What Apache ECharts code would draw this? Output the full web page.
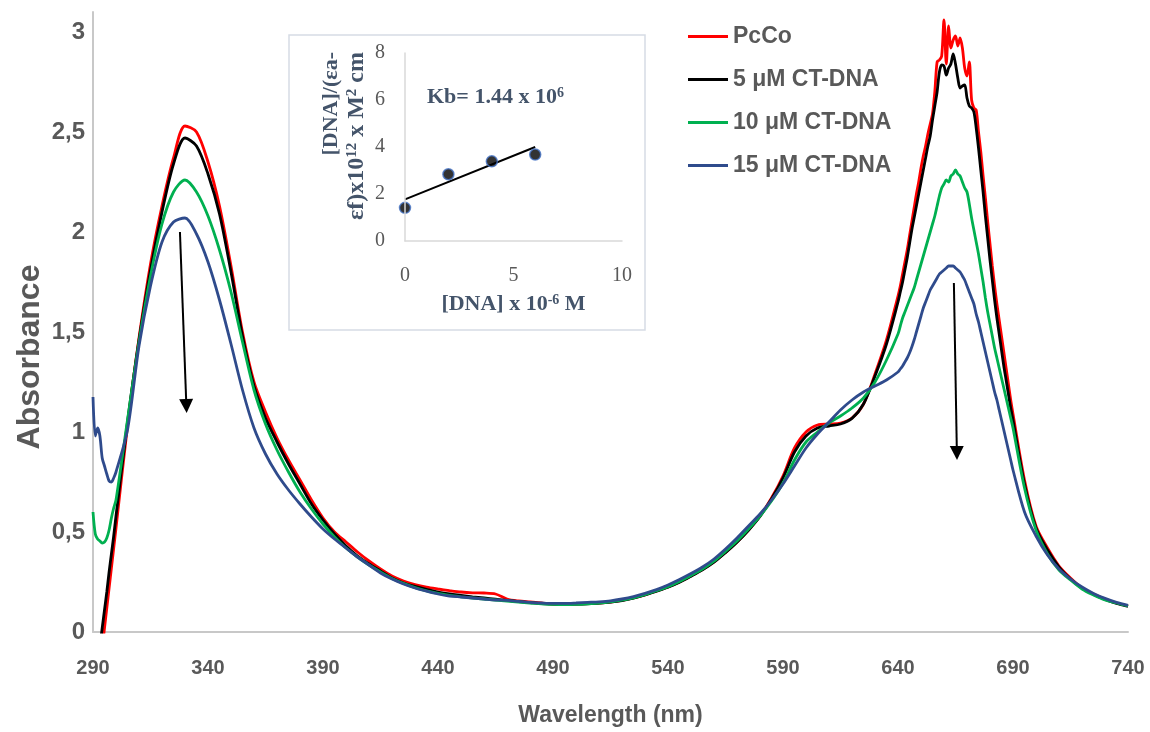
<!DOCTYPE html>
<html>
<head>
<meta charset="utf-8">
<script src="https://cdn.jsdelivr.net/npm/echarts@6/dist/echarts.min.js"></script>
<style>
html,body{margin:0;padding:0;background:#fff;}
#chart{width:1150px;height:732px;}
</style>
</head>
<body>
<div id="chart"></div>
<script>
// ---------- main spectrum data ----------
const wavelengths = [
 290,291,292,293,294,295,296,297,298,299,300,
 305,310,315,320,325,330,335,340,345,350,355,360,365,370,375,380,385,390,395,400,
 405,410,415,420,425,430,435,440,445,450,455,460,465,470,475,480,485,490,495,500,
 505,510,515,520,525,530,535,540,545,550,555,560,565,570,575,580,585,590,595,600,
 605,610,615,620,625,630,635,640,
 641,642,643,644,645,646,647,648,649,650,651,652,653,654,655,656,657,658,659,660,
 661,662,663,664,665,666,667,668,669,670,671,672,673,674,675,676,677,678,679,680,
 681,682,683,684,685,686,687,688,689,690,
 695,700,705,710,715,720,725,730,735,740
];
const pcco = [
 -0.46,-0.37,-0.27,-0.18,-0.08,0.02,0.12,0.22,0.32,0.42,0.52,
 1.03,1.47,1.84,2.13,2.37,2.53,2.50,2.35,2.13,1.83,1.50,1.25,1.10,0.97,0.86,0.76,0.66,0.57,0.50,0.45,
 0.40,0.355,0.315,0.28,0.255,0.237,0.224,0.215,0.207,0.200,0.196,0.195,0.19,0.165,0.155,0.150,0.145,0.140,0.139,0.140,
 0.142,0.145,0.150,0.158,0.170,0.186,0.205,0.225,0.250,0.280,0.312,0.350,0.398,0.450,0.510,0.580,0.670,0.780,0.920,1.000,
 1.035,1.040,1.045,1.070,1.140,1.290,1.460,1.680,
 1.73,1.79,1.85,1.91,1.98,2.05,2.12,2.19,2.25,2.32,2.38,2.43,2.49,2.54,2.59,2.70,2.85,2.86,2.88,3.06,
 2.84,3.03,2.92,2.96,2.98,2.93,2.97,2.92,2.82,2.78,2.85,2.66,2.62,2.61,2.50,2.40,2.28,2.17,2.05,1.94,
 1.83,1.73,1.64,1.56,1.48,1.40,1.32,1.24,1.16,1.09,
 0.76,0.53,0.42,0.33,0.27,0.22,0.19,0.165,0.145,0.13
];
const dna5 = [
 -0.35,-0.26,-0.16,-0.07,0.02,0.11,0.20,0.30,0.39,0.48,0.58,
 1.05,1.46,1.81,2.10,2.34,2.47,2.43,2.29,2.09,1.80,1.48,1.23,1.07,0.95,0.84,0.74,0.64,0.56,0.49,0.43,
 0.38,0.34,0.305,0.27,0.245,0.228,0.213,0.20,0.19,0.183,0.176,0.17,0.164,0.158,0.152,0.147,0.142,0.139,0.138,0.139,
 0.141,0.144,0.149,0.157,0.169,0.185,0.204,0.224,0.249,0.279,0.311,0.349,0.397,0.449,0.509,0.578,0.665,0.770,0.900,0.980,
 1.020,1.030,1.040,1.068,1.140,1.280,1.440,1.650,
 1.70,1.75,1.81,1.87,1.94,2.01,2.07,2.13,2.19,2.25,2.31,2.37,2.43,2.48,2.56,2.63,2.70,2.80,2.835,2.83,
 2.785,2.82,2.84,2.89,2.84,2.77,2.72,2.73,2.735,2.67,2.63,2.62,2.60,2.52,2.42,2.31,2.20,2.08,1.97,1.86,
 1.76,1.66,1.57,1.49,1.41,1.33,1.26,1.19,1.12,1.06,
 0.74,0.52,0.41,0.325,0.265,0.218,0.188,0.163,0.143,0.128
];
const dna10 = [
 0.60,0.49,0.465,0.455,0.445,0.45,0.47,0.51,0.57,0.62,0.66,
 1.06,1.45,1.78,2.04,2.20,2.26,2.20,2.08,1.91,1.70,1.45,1.21,1.04,0.91,0.80,0.70,0.615,0.54,0.475,0.42,
 0.375,0.335,0.30,0.268,0.243,0.222,0.206,0.193,0.183,0.176,0.170,0.165,0.160,0.155,0.150,0.145,0.141,0.138,0.137,0.138,
 0.141,0.145,0.151,0.159,0.171,0.187,0.206,0.227,0.253,0.283,0.315,0.354,0.403,0.455,0.515,0.580,0.655,0.745,0.860,0.950,
 1.000,1.045,1.080,1.120,1.170,1.250,1.360,1.490,
 1.53,1.57,1.60,1.63,1.66,1.69,1.72,1.76,1.80,1.84,1.88,1.92,1.96,2.00,2.04,2.08,2.13,2.18,2.22,2.24,
 2.26,2.25,2.28,2.29,2.31,2.29,2.28,2.25,2.22,2.20,2.14,2.07,2.01,1.95,1.89,1.82,1.75,1.67,1.60,1.54,
 1.48,1.42,1.37,1.32,1.27,1.22,1.17,1.12,1.07,1.02,
 0.72,0.51,0.39,0.31,0.26,0.215,0.185,0.16,0.145,0.13
];
const dna15 = [
 1.175,0.98,1.02,0.98,0.87,0.83,0.79,0.755,0.75,0.77,0.80,
 1.01,1.43,1.73,1.95,2.05,2.07,1.99,1.85,1.66,1.44,1.21,1.02,0.89,0.79,0.71,0.64,0.575,0.515,0.465,0.42,
 0.375,0.335,0.295,0.265,0.24,0.22,0.204,0.19,0.18,0.175,0.17,0.165,0.16,0.158,0.153,0.148,0.145,0.143,0.143,0.145,
 0.148,0.151,0.156,0.165,0.177,0.193,0.212,0.235,0.262,0.292,0.325,0.365,0.415,0.47,0.53,0.59,0.66,0.74,0.83,0.92,
 0.99,1.05,1.11,1.16,1.20,1.23,1.26,1.30,
 1.315,1.33,1.35,1.37,1.395,1.425,1.46,1.50,1.54,1.58,1.62,1.65,1.68,1.71,1.73,1.75,1.77,1.79,1.80,1.81,
 1.82,1.83,1.83,1.83,1.82,1.81,1.80,1.78,1.76,1.73,1.70,1.67,1.64,1.59,1.55,1.50,1.45,1.40,1.35,1.30,
 1.25,1.20,1.16,1.11,1.06,1.01,0.96,0.91,0.86,0.81,
 0.60,0.48,0.385,0.315,0.265,0.225,0.193,0.168,0.148,0.133
];
const seriesNames = ['PcCo', '5 μM CT-DNA', '10 μM CT-DNA', '15 μM CT-DNA'];
const seriesColors = ['#ff0000', '#000000', '#00b050', '#2f4b8c'];
// arrows (start/end in data units)
const arrowLeft = [[327.8, 2.0], [330.6, 1.13]];
const arrowRight = [[664.3, 1.745], [665.6, 0.895]];

// ---------- inset data ----------
const insetX = [0, 2, 4, 6];
const insetY = [1.41, 2.84, 3.39, 3.68];
const trendX = [0, 6];
const trendY = [1.77, 4.0];

const SANS = "'Liberation Sans',Arial,sans-serif";
const SERIF = "'Liberation Serif','Times New Roman',serif";
const GRAY = '#595959';
const SLATE = '#44546a';

const zip = (xs, ys) => xs.map((x, i) => [x, ys[i]]);
const allSeries = [pcco, dna5, dna10, dna15];

const lineSeries = allSeries.map((ys, i) => ({
  name: seriesNames[i],
  type: 'line',
  xAxisIndex: 0, yAxisIndex: 0,
  data: zip(wavelengths, ys),
  showSymbol: false, symbol: 'none',
  smooth: 0.3,
  clip: true,
  lineStyle: { color: seriesColors[i], width: 2.8 },
  itemStyle: { color: seriesColors[i] },
  z: 3 + i
}));
lineSeries[3].markLine = {
  silent: true,
  symbol: ['none', 'triangle'],
  symbolSize: 14,
  label: { show: false },
  itemStyle: { color: '#000' },
  lineStyle: { color: '#000', width: 2, type: 'solid' },
  emphasis: { disabled: true },
  data: [
    [{ coord: arrowLeft[0] }, { coord: arrowLeft[1] }],
    [{ coord: arrowRight[0] }, { coord: arrowRight[1] }]
  ]
};

const chart = echarts.init(document.getElementById('chart'), null, { renderer: 'canvas' });
chart.setOption({
  animation: false,
  backgroundColor: '#fff',
  grid: [
    { left: 93, right: 22, top: 12, bottom: 100, containLabel: false },
    { left: 405, top: 53, width: 217, height: 188, containLabel: false }
  ],
  legend: {
    orient: 'vertical', left: 688, top: 25, padding: 0,
    icon: 'rect', itemWidth: 40, itemHeight: 3, itemGap: 20,
    textStyle: { fontFamily: SANS, fontWeight: 'bold', fontSize: 23, color: GRAY },
    data: seriesNames
  },
  xAxis: [
    {
      gridIndex: 0, type: 'value', min: 290, max: 740, interval: 50,
      name: 'Wavelength (nm)', nameLocation: 'middle', nameGap: 72,
      nameTextStyle: { fontFamily: SANS, fontWeight: 'bold', fontSize: 23, color: GRAY },
      axisLine: { show: true, onZero: false, lineStyle: { color: '#c8c8c8', width: 2 } },
      axisTick: { show: false }, splitLine: { show: false },
      axisLabel: { margin: 26, fontFamily: SANS, fontWeight: 'bold', fontSize: 20, color: GRAY }
    },
    {
      gridIndex: 1, type: 'value', min: 0, max: 10, interval: 5, z: 20,
      name: '{n|[DNA] x 10}{s|-6}{n| M}', nameLocation: 'middle', nameGap: 52,
      nameTextStyle: { rich: {
        n: { fontFamily: SERIF, fontWeight: 'bold', fontSize: 22, color: SLATE },
        s: { fontFamily: SERIF, fontWeight: 'bold', fontSize: 14, color: SLATE, verticalAlign: 'top' }
      } },
      axisLine: { show: true, onZero: false, lineStyle: { color: '#d9d9d9', width: 1.5 } },
      axisTick: { show: false }, splitLine: { show: false },
      axisLabel: { margin: 25, fontFamily: SERIF, fontSize: 20, color: GRAY }
    }
  ],
  yAxis: [
    {
      gridIndex: 0, type: 'value', min: 0, max: 3.1, interval: 0.5,
      axisLine: { show: true, onZero: false, lineStyle: { color: '#c8c8c8', width: 2 } },
      axisTick: { show: false }, splitLine: { show: false },
      axisLabel: {
        margin: 8, fontFamily: SANS, fontWeight: 'bold', fontSize: 24, color: GRAY,
        formatter: v => (Math.abs(v / 0.5 - Math.round(v / 0.5)) < 1e-6 ? String(v).replace('.', ',') : '')
      }
    },
    {
      gridIndex: 1, type: 'value', min: 0, max: 8, interval: 2, z: 20,
      axisLine: { show: true, onZero: false, lineStyle: { color: '#d9d9d9', width: 1.5 } },
      axisTick: { show: false }, splitLine: { show: false },
      axisLabel: { margin: 20, fontFamily: SERIF, fontSize: 20, color: GRAY }
    }
  ],
  graphic: [
    { type: 'rect', z: -1, shape: { x: 289, y: 35, width: 356, height: 295 },
      style: { fill: '#fff', stroke: '#d6dce5', lineWidth: 1.5 } },
    { type: 'text', z: 20, x: 30, y: 357, rotation: Math.PI / 2,
      style: { text: 'Absorbance', align: 'center', verticalAlign: 'middle',
        fontFamily: SANS, fontWeight: 'bold', fontSize: 32, fill: GRAY } },
    { type: 'text', z: 20, x: 427, y: 97,
      style: { text: '{n|Kb= 1.44 x 10}{s|6}', verticalAlign: 'middle', align: 'left',
        rich: {
          n: { fontFamily: SERIF, fontWeight: 'bold', fontSize: 22, fill: SLATE },
          s: { fontFamily: SERIF, fontWeight: 'bold', fontSize: 14, fill: SLATE, verticalAlign: 'top' }
        } } },
    { type: 'text', z: 20, x: 331, y: 52, rotation: Math.PI / 2,
      style: { text: '{n|[DNA]/(εa-}', align: 'right', verticalAlign: 'middle',
        rich: { n: { fontFamily: SERIF, fontWeight: 'bold', fontSize: 22, fill: SLATE } } } },
    { type: 'text', z: 20, x: 357, y: 52, rotation: Math.PI / 2,
      style: { text: '{n|εf)x10}{s|12}{n| x M}{s|2}{n| cm}', align: 'right', verticalAlign: 'middle',
        rich: {
          n: { fontFamily: SERIF, fontWeight: 'bold', fontSize: 24, fill: SLATE },
          s: { fontFamily: SERIF, fontWeight: 'bold', fontSize: 15, fill: SLATE, verticalAlign: 'top' }
        } } }
  ],
  series: [
    ...lineSeries,
    {
      name: 'trend', type: 'line', xAxisIndex: 1, yAxisIndex: 1,
      data: zip(trendX, trendY), showSymbol: false, symbol: 'none',
      lineStyle: { color: '#000', width: 2 }, z: 11
    },
    {
      name: 'Kb points', type: 'scatter', xAxisIndex: 1, yAxisIndex: 1,
      data: zip(insetX, insetY), symbolSize: 11,
      itemStyle: { color: '#000', borderColor: '#4472c4', borderWidth: 1.5 }, z: 12
    }
  ]
});
</script>
</body>
</html>
